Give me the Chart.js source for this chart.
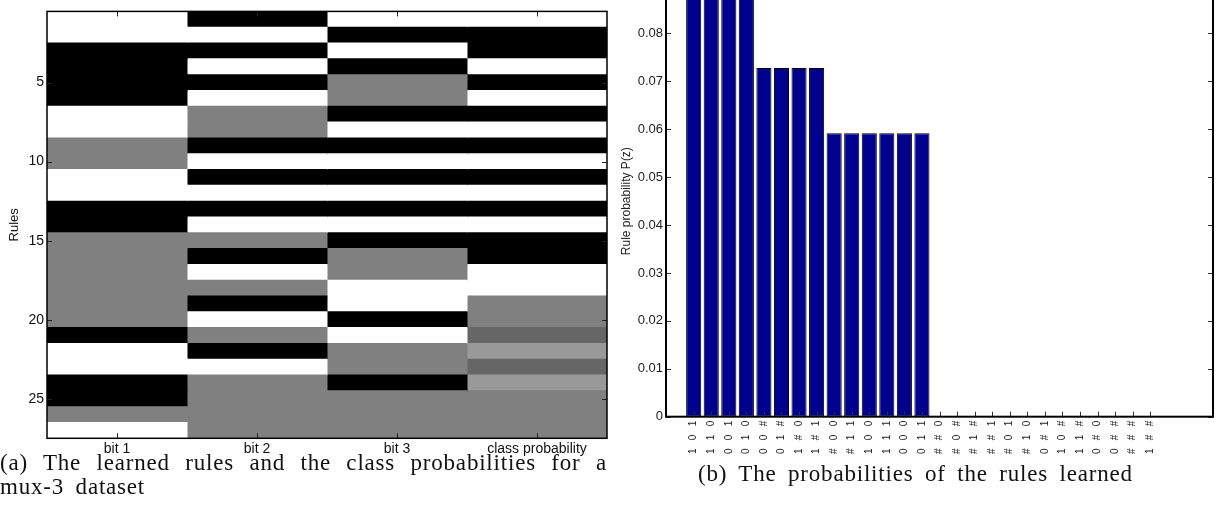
<!DOCTYPE html>
<html>
<head>
<meta charset="utf-8">
<script src="https://cdn.jsdelivr.net/npm/chart.js@4.4.1/dist/chart.umd.min.js"></script>
<style>
  html, body { margin: 0; padding: 0; background: #fff; overflow: hidden; }
  body { position: relative; width: 1217px; height: 514px; }
  canvas { position: absolute; }
  #rules-map { left: 0; top: 0; }
  #rule-probs { left: 610px; top: -30px; }
  .caption { position: absolute; font-family: "Liberation Serif", serif; font-size: 23px; line-height: 24px; color: #111; letter-spacing: 0.8px; word-spacing: 5px; white-space: nowrap; }
  #cap-a1 { left: 0; top: 451px; width: 607px; white-space: normal; text-align: justify; text-align-last: justify; word-spacing: 0; }
  #cap-a2 { left: 0; top: 475px; }
  #cap-b { left: 698px; top: 462px; }
</style>
</head>
<body>
<canvas id="rules-map" width="612" height="458"></canvas>
<canvas id="rule-probs" width="607" height="492"></canvas>
<div class="caption" id="cap-a1">(a) The learned rules and the class probabilities for a</div>
<div class="caption" id="cap-a2">mux-3 dataset</div>
<div class="caption" id="cap-b">(b) The probabilities of the rules learned</div>
<script>
// columns of the left map
const columns = ['bit 1', 'bit 2', 'bit 3', 'class probability'];
// 1 = white, 0 = black, 0.5 = '#' (gray)
const bit1  = [1, 1, 0, 0, 0, 0, 1, 1, 0.5, 0.5, 1, 1, 0, 0, 0.5, 0.5, 0.5, 0.5, 0.5, 0.5, 0, 1, 1, 0, 0, 0.5, 1];
const bit2  = [0, 1, 0, 1, 0, 1, 0.5, 0.5, 0, 1, 0, 1, 0, 1, 0.5, 0, 1, 0.5, 0, 1, 0.5, 0, 1, 0.5, 0.5, 0.5, 0.5];
const bit3  = [1, 0, 1, 0, 0.5, 0.5, 0, 1, 0, 1, 0, 1, 0, 1, 0, 0.5, 0.5, 1, 1, 0, 1, 0.5, 0.5, 0, 0.5, 0.5, 0.5];
const classProb = [1, 0, 0, 1, 0, 1, 0, 1, 0, 1, 0, 1, 0, 1, 0, 0, 1, 1, 0.5, 0.5, 0.4, 0.6, 0.4, 0.6, 0.5, 0.5, 0.5];
const ruleIds = bit1.map((_, i) => String(i + 1));
const yTickRules = [5, 10, 15, 20, 25];

// rule probabilities (right chart), same rule order
const ruleProb = [0.0884, 0.0884, 0.0884, 0.0884, 0.0728, 0.0728, 0.0728, 0.0728,
  0.0592, 0.0592, 0.0592, 0.0592, 0.0592, 0.0592, 0, 0, 0, 0, 0, 0, 0, 0, 0, 0, 0, 0, 0];
const probTicks = [0, 0.01, 0.02, 0.03, 0.04, 0.05, 0.06, 0.07, 0.08, 0.09];

const bitChar = v => v === 0.5 ? '#' : String(v);
const ruleLabels = bit1.map((_, i) => [bit1[i], bit2[i], bit3[i]].map(bitChar).join('   '));
const gray = v => { const c = Math.round(v * 255); return `rgb(${c},${c},${c})`; };

const TICK_FONT = 'Liberation Sans, Arial, sans-serif';

// MATLAB style box with inward tick marks on all four sides
const boxTicks = {
  id: 'boxTicks',
  afterDraw(chart, args, opts) {
    const { ctx, chartArea: a, scales } = chart;
    ctx.save();
    ctx.strokeStyle = opts.tickColor;
    ctx.lineWidth = 1;
    ctx.beginPath();
    opts.xTicks.forEach(v => {
      const px = Math.round(scales.x.getPixelForValue(v)) + 0.5;
      ctx.moveTo(px, a.bottom); ctx.lineTo(px, a.bottom - opts.len);
      ctx.moveTo(px, a.top); ctx.lineTo(px, a.top + opts.len);
    });
    opts.yTicks.forEach(v => {
      const py = Math.round(scales.y.getPixelForValue(v)) + 0.5;
      ctx.moveTo(a.left, py); ctx.lineTo(a.left + opts.len, py);
      ctx.moveTo(a.right, py); ctx.lineTo(a.right - opts.len, py);
    });
    ctx.stroke();
    ctx.strokeStyle = '#000';
    ctx.lineWidth = opts.boxWidth;
    ctx.strokeRect(a.left, a.top, a.width, a.height);
    ctx.restore();
  }
};

// left: learned rules map
new Chart(document.getElementById('rules-map'), {
  type: 'bar',
  data: {
    labels: ruleIds,
    datasets: [bit1, bit2, bit3, classProb].map((vals, c) => ({
      label: columns[c],
      data: vals.map(() => [c + 0.5, c + 1.5]),
      backgroundColor: vals.map(gray),
      borderWidth: 0,
      inflateAmount: 0.5,
      barPercentage: 1,
      categoryPercentage: 1,
      grouped: false
    }))
  },
  options: {
    indexAxis: 'y',
    responsive: false,
    animation: false,
    devicePixelRatio: 1,
    layout: { padding: { top: 4.7, right: 5, left: 0, bottom: 0 } },
    plugins: {
      legend: { display: false },
      tooltip: { enabled: false },
      boxTicks: { xTicks: [1, 2, 3, 4], yTicks: yTickRules.map(String), len: 5, tickColor: '#222', boxWidth: 1.5 }
    },
    scales: {
      x: {
        type: 'linear', min: 0.5, max: 4.5,
        grid: { display: false, drawTicks: false }, border: { display: false },
        afterBuildTicks: s => { s.ticks = columns.map((_, i) => ({ value: i + 1 })); },
        afterFit: s => { s.height = 19.7; },
        ticks: { callback: v => columns[v - 1], color: '#111', padding: 2, maxRotation: 0, font: { family: TICK_FONT, size: 14 } }
      },
      y: {
        grid: { display: false, drawTicks: false }, border: { display: false },
        afterFit: s => { s.width = 47; },
        ticks: {
          autoSkip: false, padding: 3, color: '#111', font: { family: TICK_FONT, size: 14 },
          callback: (v, i) => yTickRules.includes(i + 1) ? ruleIds[i] : ''
        },
        title: { display: true, text: 'Rules', color: '#111', padding: { top: 7, bottom: 0 }, font: { family: TICK_FONT, size: 13 } }
      }
    }
  },
  plugins: [boxTicks]
});

// right: rule probabilities
new Chart(document.getElementById('rule-probs'), {
  type: 'bar',
  data: {
    datasets: [{
      label: 'P(z)',
      data: ruleProb.map((p, i) => ({ x: i + 1, y: p })),
      backgroundColor: 'rgb(0,0,143)',
      borderColor: '#000',
      borderWidth: 1,
      borderSkipped: false,
      barPercentage: 0.86,
      categoryPercentage: 1
    }]
  },
  options: {
    responsive: false,
    animation: false,
    devicePixelRatio: 1,
    layout: { padding: { top: 15.6, right: 4, left: 0, bottom: 0 } },
    plugins: {
      legend: { display: false },
      tooltip: { enabled: false },
      boxTicks: { xTicks: ruleLabels.map((_, i) => i + 1), yTicks: probTicks, len: 5, tickColor: '#333', boxWidth: 2 }
    },
    scales: {
      x: {
        type: 'linear', min: 0, max: 30,
        grid: { display: false, drawTicks: false }, border: { display: false },
        afterBuildTicks: s => { s.ticks = ruleLabels.map((_, i) => ({ value: i + 1 })); },
        afterFit: s => { s.height = 45.3; },
        ticks: {
          autoSkip: false, minRotation: 90, maxRotation: 90, padding: 4, color: '#222',
          font: { family: TICK_FONT, size: 10 },
          callback: v => ruleLabels[v - 1]
        }
      },
      y: {
        type: 'linear', min: 0, max: 0.09,
        grid: { display: false, drawTicks: false }, border: { display: false },
        afterBuildTicks: s => { s.ticks = probTicks.map(v => ({ value: v })); },
        afterFit: s => { s.width = 56; },
        ticks: { padding: 3, color: '#222', font: { family: TICK_FONT, size: 13 }, callback: v => v === 0 ? '0' : v.toFixed(2) },
        title: { display: true, text: 'Rule probability P(z)', color: '#222', padding: { top: 9, bottom: 0 }, font: { family: TICK_FONT, size: 12 } }
      }
    }
  },
  plugins: [boxTicks]
});
</script>
</body>
</html>
